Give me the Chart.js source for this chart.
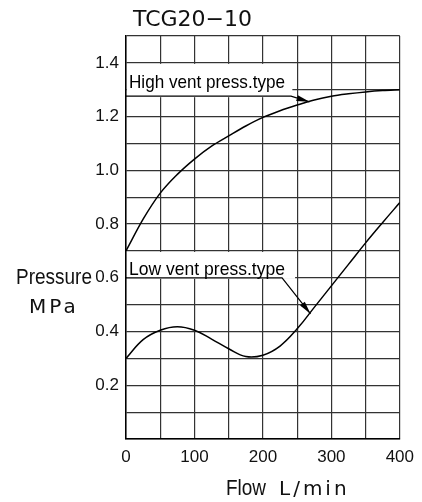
<!DOCTYPE html>
<html>
<head>
<meta charset="utf-8">
<script src="https://cdn.jsdelivr.net/npm/chart.js@4/dist/chart.umd.min.js"></script>
<style>
  html, body { margin: 0; padding: 0; background: #fff; }
  #wrap { width: 422px; height: 502px; }
</style>
</head>
<body>
<div id="wrap"><canvas id="flowChart" width="422" height="502"></canvas></div>
<script>
// flow L/min and pressure MPa
const flowPoints = [0, 25, 50, 75, 100, 125, 150, 175, 200, 225, 250, 275, 300, 325, 350, 375, 400];
const highVentPress = [0.70, 0.818, 0.915, 0.985, 1.042, 1.09, 1.128, 1.165, 1.197, 1.222, 1.243, 1.262, 1.276, 1.285, 1.292, 1.297, 1.30];
const lowVentPress = [0.30, 0.37, 0.405, 0.418, 0.405, 0.372, 0.336, 0.307, 0.312, 0.346, 0.41, 0.49, 0.57, 0.65, 0.73, 0.806, 0.88];
const xTickLabels = [0, 100, 200, 300, 400];
const yTickLabels = [0.2, 0.4, 0.6, 0.8, 1.0, 1.2, 1.4];

const sans = '"Liberation Sans", Arial, sans-serif';

// callouts, in data units
const callouts = [
  { text: "High vent press.type", boxRight: 243, boxTop: 1.4, boxBottom: 1.276, textY: 1.305, bendX: 241, tipX: 268, tipY: 1.255 },
  { text: "Low vent press.type", boxRight: 247, boxTop: 0.7, boxBottom: 0.6, textY: 0.611, bendX: 228, tipX: 269.5, tipY: 0.466 },
];

const toPoints = (ys) => flowPoints.map((x, i) => ({ x: x, y: ys[i] }));

// draw text squeezed to a given width (the original uses a narrow face)
const squeezeText = (c, text, x, y, width) => {
  const w = c.measureText(text).width;
  c.save();
  c.translate(x, y);
  c.scale(width / w, 1);
  c.fillText(text, 0, 0);
  c.restore();
};

const drawArrowHead = (c, fromX, fromY, tipX, tipY) => {
  const ang = Math.atan2(tipY - fromY, tipX - fromX);
  const len = 13, half = 3;
  c.beginPath();
  c.moveTo(tipX, tipY);
  c.lineTo(tipX - len * Math.cos(ang) + half * Math.sin(ang), tipY - len * Math.sin(ang) - half * Math.cos(ang));
  c.lineTo(tipX - len * Math.cos(ang) - half * Math.sin(ang), tipY - len * Math.sin(ang) + half * Math.cos(ang));
  c.closePath();
  c.fill();
};

const calloutPlugin = {
  id: "callouts",
  beforeDatasetsDraw(chart) {
    const c = chart.ctx;
    const xs = chart.scales.x, ys = chart.scales.y;
    c.save();
    c.fillStyle = "#fff";
    callouts.forEach((n) => {
      const l = xs.getPixelForValue(0) + 1;
      const r = xs.getPixelForValue(n.boxRight);
      const t = ys.getPixelForValue(n.boxTop) + 1;
      const b = ys.getPixelForValue(n.boxBottom) + 1;
      c.fillRect(l, t, r - l, b - t);
    });
    c.restore();
  },
  afterDatasetsDraw(chart) {
    const c = chart.ctx;
    const xs = chart.scales.x, ys = chart.scales.y;
    c.save();
    c.strokeStyle = "#000";
    c.fillStyle = "#000";
    c.lineWidth = 1.2;
    callouts.forEach((n) => {
      const x0 = xs.getPixelForValue(0);
      const yb = ys.getPixelForValue(n.boxBottom);
      const bx = xs.getPixelForValue(n.bendX);
      const tx = xs.getPixelForValue(n.tipX);
      const ty = ys.getPixelForValue(n.tipY);
      c.beginPath();
      c.moveTo(x0, yb);
      c.lineTo(bx, yb);
      c.lineTo(tx, ty);
      c.stroke();
      drawArrowHead(c, bx, yb, tx, ty);

      c.font = "19px " + sans;
      c.textBaseline = "alphabetic";
      squeezeText(c, n.text, x0 + 3, ys.getPixelForValue(n.textY), 156);
    });
    c.restore();
  },
  afterDraw(chart) {
    const c = chart.ctx;
    c.save();
    c.fillStyle = "#111";
    c.textBaseline = "alphabetic";
    c.textAlign = "left";

    c.font = '22px "DejaVu Sans"';
    c.fillText("TCG20\u221210", 133, 26);

    c.font = "22px " + sans;
    squeezeText(c, "Pressure", 16, 284, 76);
    squeezeText(c, "Flow", 226, 495, 40);

    c.font = '20px "DejaVu Sans"';
    c.letterSpacing = "3px";
    c.fillText("MPa", 29, 313);
    c.fillText("L/min", 279, 495);
    c.restore();
  },
};

const ctx = document.getElementById("flowChart").getContext("2d");

new Chart(ctx, {
  type: "line",
  data: {
    datasets: [
      {
        label: "High vent press.type",
        data: toPoints(highVentPress),
        borderColor: "#000",
        borderWidth: 1.5,
        pointRadius: 0,
        fill: false,
        cubicInterpolationMode: "monotone",
      },
      {
        label: "Low vent press.type",
        data: toPoints(lowVentPress),
        borderColor: "#000",
        borderWidth: 1.5,
        pointRadius: 0,
        fill: false,
        tension: 0.4,
      },
    ],
  },
  options: {
    responsive: false,
    animation: false,
    layout: { padding: { left: 66, right: 20, top: 36, bottom: 33 } },
    plugins: {
      legend: { display: false },
      tooltip: { enabled: false },
      title: { display: false },
    },
    scales: {
      x: {
        type: "linear",
        min: 0,
        max: 400,
        afterFit: (s) => { s.height = 30; },
        grid: { color: "#333", lineWidth: 1.2, drawTicks: false },
        border: { color: "#000", width: 1.5 },
        ticks: {
          stepSize: 50,
          autoSkip: false,
          maxRotation: 0,
          padding: 8,
          color: "#111",
          font: { family: sans, size: 17 },
          callback: (v) => (xTickLabels.includes(v) ? String(v) : ""),
        },
      },
      y: {
        type: "linear",
        min: 0,
        max: 1.5,
        afterFit: (s) => { s.width = 60; },
        grid: { color: "#333", lineWidth: 1.2, drawTicks: false },
        border: { color: "#000", width: 1.5 },
        ticks: {
          stepSize: 0.1,
          autoSkip: false,
          padding: 7,
          color: "#111",
          font: { family: sans, size: 17 },
          callback: (v) => {
            const r = Math.round(v * 10) / 10;
            return yTickLabels.includes(r) ? r.toFixed(1) : "";
          },
        },
      },
    },
  },
  plugins: [calloutPlugin],
});
</script>
</body>
</html>
